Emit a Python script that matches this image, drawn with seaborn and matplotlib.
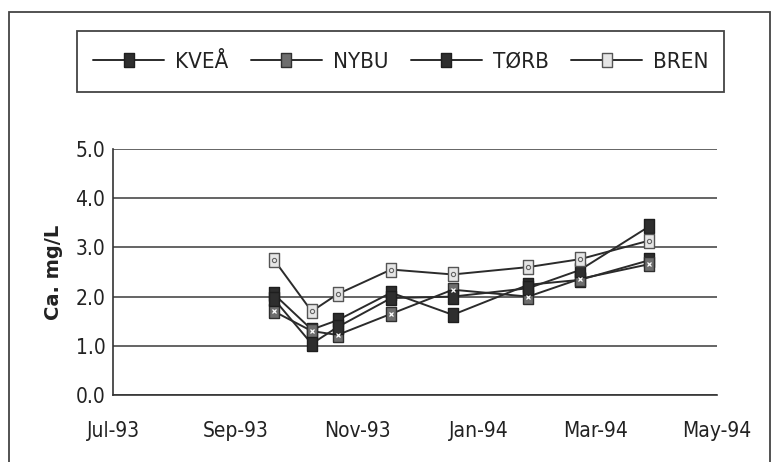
import matplotlib
matplotlib.use("Agg")
import matplotlib.pyplot as plt
from matplotlib.lines import Line2D
from matplotlib.patches import Rectangle
import seaborn as sns
import pandas as pd

# Sampling dates and calcium concentrations (mg/L) per station
dates = ["1993-09-20", "1993-10-09", "1993-10-22", "1993-11-18",
         "1993-12-19", "1994-01-26", "1994-02-21", "1994-03-28"]
kvea = [2.05, 1.33, 1.52, 2.08, 1.63, 2.24, 2.34, 2.74]
nybu = [1.70, 1.30, 1.22, 1.65, 2.14, 2.00, 2.36, 2.66]
torb = [1.95, 1.04, 1.38, 1.97, 2.00, 2.17, 2.54, 3.43]
bren = [2.75, 1.70, 2.05, 2.55, 2.45, 2.60, 2.76, 3.14]
sites = ["KVEÅ", "NYBU", "TØRB", "BREN"]
tick_dates = ["1993-07-01", "1993-09-01", "1993-11-01",
              "1994-01-01", "1994-03-01", "1994-05-01"]
tick_labels = ["Jul-93", "Sep-93", "Nov-93", "Jan-94", "Mar-94", "May-94"]
y_ticks = [0.0, 1.0, 2.0, 3.0, 4.0, 5.0]

df = pd.DataFrame({
    "date": pd.to_datetime(dates * 4),
    "value": kvea + nybu + torb + bren,
    "site": [s for s in sites for _ in dates],
})

sns.set_style("white")
plt.rcParams["font.family"] = ["DejaVu Sans"]
FONT = dict(family="DejaVu Sans", stretch="condensed")

W, H = 777, 462
fig = plt.figure(figsize=(W / 100, H / 100), dpi=100)
ax = fig.add_axes([113 / W, 1 - 395 / H, (717 - 113) / W, (395 - 149) / H])

line_col = "#2b2b2b"
face = {"KVEÅ": "#2e2e2e", "NYBU": "#6e6e6e", "TØRB": "#2e2e2e", "BREN": "#e6e6e6"}
edge = {"KVEÅ": "#1e1e1e", "NYBU": "#303030", "TØRB": "#1e1e1e", "BREN": "#555555"}

# upright rectangle marker, a bit taller than wide
RECT = [(-0.36, -0.5), (0.36, -0.5), (0.36, 0.5), (-0.36, 0.5), (-0.36, -0.5)]
MS = 9.5

sns.lineplot(data=df, x="date", y="value", hue="site", hue_order=sites,
             palette={s: line_col for s in sites}, ax=ax, legend=False,
             linewidth=1.4, zorder=3)

for s, vals in zip(sites, [kvea, nybu, torb, bren]):
    x = pd.to_datetime(dates)
    ax.plot(x, vals, ls="none", marker=RECT, ms=MS, mfc=face[s],
            mec=edge[s], mew=1.0, zorder=4)
    if s == "NYBU":
        ax.plot(x, vals, ls="none", marker="x", ms=3.5, mec="white",
                mew=0.9, zorder=5)
    if s == "BREN":
        ax.plot(x, vals, ls="none", marker="8", ms=3.2, mfc="none",
                mec="#666666", mew=0.8, zorder=5)

ax.set_xlim(pd.Timestamp(tick_dates[0]), pd.Timestamp(tick_dates[-1]))
ax.set_ylim(0, 5)
ax.set_xticks(pd.to_datetime(tick_dates))
ax.set_xticklabels(tick_labels, fontsize=15, **FONT)
ax.set_yticks(y_ticks)
ax.set_yticklabels([f"{v:.1f}" for v in y_ticks], fontsize=15, **FONT)
for s in ["top", "right"]:
    ax.spines[s].set_visible(False)
for s in ["left", "bottom"]:
    ax.spines[s].set_color("#333333")
    ax.spines[s].set_linewidth(1.2)
ax.tick_params(axis="both", which="major", direction="inout", length=7,
               width=1.1, color="#333333", labelcolor="#222222", pad=2)
ax.tick_params(axis="x", pad=15)
ax.yaxis.grid(True, color="#3a3a3a", linewidth=1.1)
ax.set_axisbelow(True)
ax.set_xlabel("")
ax.set_ylabel("Ca. mg/L", fontsize=14, fontweight="bold", color="#222222",
              labelpad=9, family="DejaVu Sans")

# legend row inside its own box
handles = [Line2D([0], [0], color=line_col, lw=1.4, marker=RECT, ms=MS,
                  mfc=face[s], mec=edge[s]) for s in sites]
fig.legend(handles, sites, ncol=4, loc="center", frameon=False,
           bbox_to_anchor=(401 / W, 1 - 62 / H), handlelength=3.2,
           columnspacing=1.0, handletextpad=0.5,
           prop=dict(size=16, family="DejaVu Sans", stretch="condensed"),
           labelcolor="#222222")
fig.patches.append(Rectangle((77 / W, 1 - 92 / H), (724 - 77) / W, (92 - 31) / H,
                             transform=fig.transFigure, fill=False,
                             edgecolor="#444444", linewidth=1.3))
fig.patches.append(Rectangle((9 / W, -0.05), (770 - 9) / W, 1 - 12 / H + 0.05,
                             transform=fig.transFigure, fill=False,
                             edgecolor="#444444", linewidth=1.3))

fig.savefig("out.png", dpi=100, facecolor="white")
